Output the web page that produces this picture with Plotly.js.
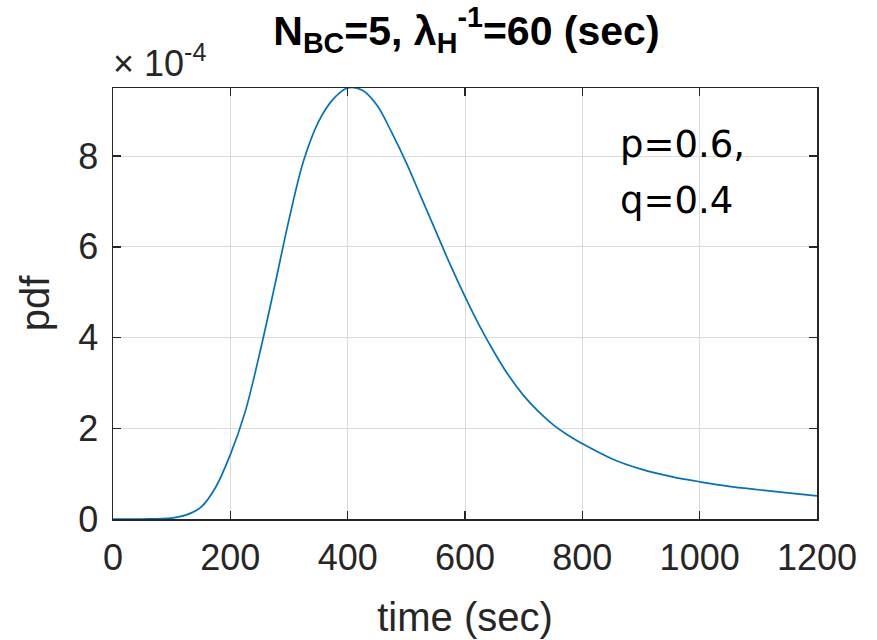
<!DOCTYPE html>
<html>
<head>
<meta charset="utf-8">
<script src="https://cdn.plot.ly/plotly-3.0.1.min.js"></script>
<style>html,body{margin:0;padding:0;background:#fff;}#chart{width:877px;height:640px;}</style>
</head>
<body>
<div id="chart"></div>
<script>
// time (sec)
var timeSec = [0,50,100,125,150,175,200,225,250,275,300,325,350,375,400,425,450,475,500,525,550,575,600,625,650,675,700,725,750,775,800,850,900,950,1000,1050,1100,1150,1200];
// pdf values in units of 1e-4
var pdfE4 = [0,0,0.02,0.09,0.26,0.7,1.42,2.35,3.65,5.1,6.6,7.9,8.75,9.25,9.5,9.45,9.12,8.52,7.85,7.1,6.35,5.6,4.9,4.25,3.67,3.15,2.72,2.37,2.08,1.85,1.66,1.33,1.1,0.94,0.82,0.72,0.645,0.575,0.51];
var pdfScale = 1e-4;
var xTicks = [0,200,400,600,800,1000,1200];
var yTickLabels = ['0','2','4','6','8'];
var yTickValsE4 = [0,2,4,6,8];

var pdfVals = pdfE4.map(function(v){return v*pdfScale;});
var yTickVals = yTickValsE4.map(function(v){return v*pdfScale;});

var axisColor = '#262626';
var tickFont = {family:'Liberation Sans, Arial, sans-serif', size:36, color:axisColor};

var trace = {
  x: timeSec, y: pdfVals, type:'scatter', mode:'lines',
  line:{color:'#0072BD', width:1.7, shape:'spline', smoothing:1},
  hoverinfo:'skip'
};

var layout = {
  width:877, height:640,
  margin:{l:113, r:60, t:88, b:121},
  paper_bgcolor:'#ffffff', plot_bgcolor:'#ffffff',
  showlegend:false,
  title:{
    text:'N<sub>BC</sub>=5, λ<sub>H</sub><sup>-1</sup>=60 (sec)',
    font:{family:'Liberation Sans, Arial, sans-serif', size:41, color:'#000000', weight:'bold'},
    x:0.502, xanchor:'center', xref:'paper',
    y:0.975, yanchor:'top', yref:'container'
  },
  xaxis:{
    range:[0,1200], tickvals:xTicks, ticktext:xTicks.map(String),
    ticks:'inside', ticklen:8, tickwidth:1.5, tickcolor:axisColor,
    showline:true, linecolor:axisColor, linewidth:1.5, mirror:'ticks',
    showgrid:true, gridcolor:'#dcdcdc', gridwidth:1, zeroline:false,
    tickfont:tickFont, ticklabelstandoff:6,
    title:{text:'time (sec)', font:{family:'Liberation Sans, Arial, sans-serif', size:40, color:axisColor}, standoff:26}
  },
  yaxis:{
    range:[0,9.5e-4], tickvals:yTickVals, ticktext:yTickLabels,
    ticks:'inside', ticklen:8, tickwidth:1.5, tickcolor:axisColor,
    showline:true, linecolor:axisColor, linewidth:1.5, mirror:'ticks',
    showgrid:true, gridcolor:'#dcdcdc', gridwidth:1, zeroline:false,
    tickfont:tickFont, ticklabelstandoff:6,
    title:{text:'pdf', font:{family:'Liberation Sans, Arial, sans-serif', size:40, color:axisColor}, standoff:16}
  },
  annotations:[
    {text:'× 10<sup>-4</sup>', xref:'paper', yref:'paper', x:0, y:1, xanchor:'left', yanchor:'bottom',
     xshift:-2, yshift:2, showarrow:false,
     font:{family:'Liberation Sans, Arial, sans-serif', size:36, color:axisColor}},
    {text:'p=0.6,', xref:'paper', yref:'paper', x:(618-113)/704, y:(519-168)/431, xanchor:'left', yanchor:'bottom',
     showarrow:false, font:{family:'DejaVu Sans, sans-serif', size:37, color:'#000000'}},
    {text:'q=0.4', xref:'paper', yref:'paper', x:(618-113)/704, y:(519-224)/431, xanchor:'left', yanchor:'bottom',
     showarrow:false, font:{family:'DejaVu Sans, sans-serif', size:37, color:'#000000'}}
  ]
};

Plotly.newPlot('chart', [trace], layout, {displayModeBar:false, staticPlot:true});
</script>
</body>
</html>
